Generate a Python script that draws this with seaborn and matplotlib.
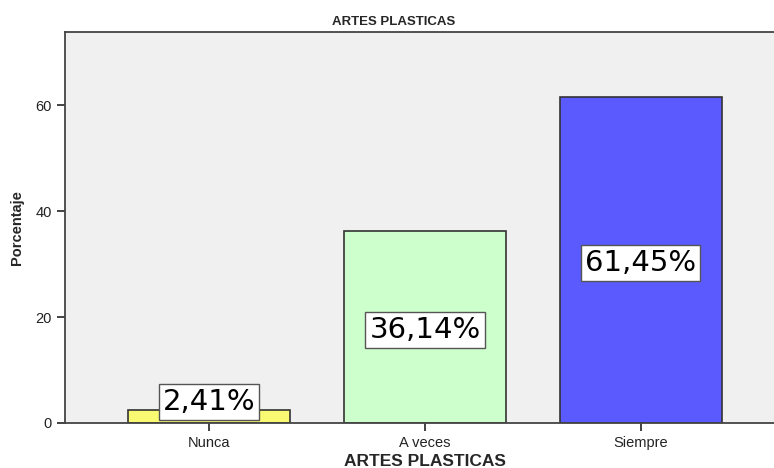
import pandas as pd
import seaborn as sns
import matplotlib.pyplot as plt

# Datos
categorias = ["Nunca", "A veces", "Siempre"]
porcentajes = [2.41, 36.14, 61.45]
etiquetas = ["2,41%", "36,14%", "61,45%"]
pos_etiqueta = [3.96, 17.6, 30.2]
colores = ["#FAFA72", "#CCFFCC", "#5A5AFF"]

df = pd.DataFrame({"categoria": categorias, "porcentaje": porcentajes})

sns.set_style("white")
plt.rcParams["font.family"] = ["Liberation Sans", "DejaVu Sans"]

fig = plt.figure(figsize=(7.74, 4.68), dpi=100)
ax = fig.add_axes([0.084, 0.0962, 0.93, 0.8355])
ax.set_facecolor("#F0F0F0")

sns.barplot(data=df, x="categoria", y="porcentaje", hue="categoria",
            palette=colores, saturation=1, legend=False, width=0.75,
            edgecolor="#333333", linewidth=1.2, ax=ax)

for i, txt in enumerate(etiquetas):
    ax.text(i, pos_etiqueta[i], txt, ha="center", va="center", fontsize=21,
            family="DejaVu Sans", color="black",
            bbox=dict(boxstyle="square,pad=0.14", facecolor="white",
                      edgecolor="#555555", linewidth=1))

ax.set_xlim(-0.667, 2.667)
ax.set_ylim(0, 73.8)
ax.set_yticks([0, 20, 40, 60])
ax.tick_params(axis="both", direction="out", length=6, width=1.2,
               labelsize=10.5, colors="#222222", bottom=True, left=True)
for s in ax.spines.values():
    s.set_color("#444444")
    s.set_linewidth(1.3)

ax.set_xlabel("ARTES PLASTICAS", fontsize=12.5, fontweight="bold", labelpad=3)
ax.set_ylabel("Porcentaje", fontsize=10.5, fontweight="bold", labelpad=8)
fig.text(0.508, 0.953, "ARTES PLASTICAS", ha="center", va="center",
         fontsize=9.5, fontweight="bold")

fig.savefig("out.png", dpi=100)
